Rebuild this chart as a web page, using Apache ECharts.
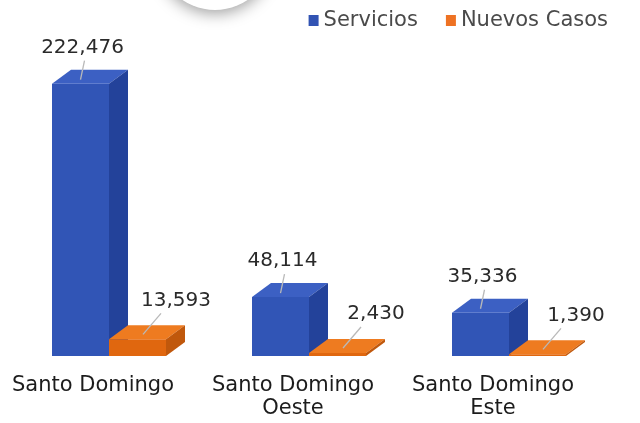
<!DOCTYPE html>
<html>
<head>
<meta charset="utf-8">
<script src="https://cdn.jsdelivr.net/npm/echarts@6/dist/echarts.min.js"></script>
<style>
  html, body { margin: 0; padding: 0; background: #fff; }
  #chart { width: 640px; height: 423px; }
</style>
</head>
<body>
<div id="chart"></div>
<script>
var categories = ["Santo Domingo", "Santo Domingo\nOeste", "Santo Domingo\nEste"];
var servicios = [222476, 48114, 35336];
var nuevosCasos = [13593, 2430, 1390];

var FONT = "DejaVu Sans";
var BAR_W = 57, DX = 19, DY = 14;

// draws a fake 3d box (front, top, side) plus its value label
function box(offset, face, top, side, labelMode) {
  return function (params, api) {
    var idx = api.value(0);
    var val = api.value(1);
    var p = api.coord([idx, val]);
    var b = api.coord([idx, 0]);
    var L = p[0] + offset;
    var t = p[1], y0 = b[1];
    var children = [
      { type: "rect", shape: { x: L, y: t, width: BAR_W, height: y0 - t }, style: { fill: face } },
      { type: "polygon", shape: { points: [[L, t], [L + DX, t - DY], [L + BAR_W + DX, t - DY], [L + BAR_W, t]] }, style: { fill: top } },
      { type: "polygon", shape: { points: [[L + BAR_W, t], [L + BAR_W + DX, t - DY], [L + BAR_W + DX, y0 - DY], [L + BAR_W, y0]] }, style: { fill: side } }
    ];
    var txt = val.toLocaleString("en-US");
    var tx, ty, line;
    if (labelMode === "above") {
      tx = L + BAR_W / 2 + 2; ty = t - 36;
      line = [[L + BAR_W / 2 + 4, t - 23], [L + BAR_W / 2, t - 4]];
    } else {
      tx = L + 67; ty = t - 39;
      line = [[L + 52, t - 26], [L + 34, t - 5]];
    }
    children.push({ type: "polyline", shape: { points: line }, style: { stroke: "#b9b9b9", lineWidth: 1.3, fill: null } });
    children.push({ type: "text", style: { text: txt, x: tx, y: ty, align: "center", verticalAlign: "middle", fontFamily: FONT, fontSize: 20, fill: "#2a2a2a" } });
    return { type: "group", children: children };
  };
}

var chart = echarts.init(document.getElementById("chart"));
chart.setOption({
  backgroundColor: "#fff",
  animation: false,
  graphic: [{
    type: "circle", shape: { cx: 215, cy: -48, r: 58 },
    style: { fill: "#fff", shadowBlur: 16, shadowColor: "rgba(0,0,0,0.4)", shadowOffsetY: 3 }
  }],
  legend: {
    top: 5, right: 27, icon: "rect", itemWidth: 10, itemHeight: 11, itemGap: 28,
    textStyle: { fontFamily: FONT, fontSize: 21, color: "#4a4a4a" },
    data: ["Servicios", "Nuevos Casos"]
  },
  grid: { left: 0, right: 40, top: 50, bottom: 67 },
  xAxis: {
    type: "category", data: categories,
    axisLine: { show: false }, axisTick: { show: false },
    axisLabel: { margin: 18, fontFamily: FONT, fontSize: 21, lineHeight: 23, color: "#1c1c1c", interval: 0, padding: [0, 14, 0, 0] }
  },
  yAxis: { type: "value", min: 0, max: 250000, show: false, splitLine: { show: false } },
  series: [
    {
      name: "Servicios", type: "custom",
      itemStyle: { color: "#3153b3" },
      renderItem: box(-48, "#3155b6", "#3c60c3", "#23429a", "above"),
      data: servicios.map(function (v, i) { return [i, v]; })
    },
    {
      name: "Nuevos Casos", type: "custom",
      itemStyle: { color: "#ee7223" },
      renderItem: box(9, "#e0670f", "#ee7b20", "#c0580c", "side"),
      data: nuevosCasos.map(function (v, i) { return [i, v]; })
    }
  ]
});
</script>
</body>
</html>
